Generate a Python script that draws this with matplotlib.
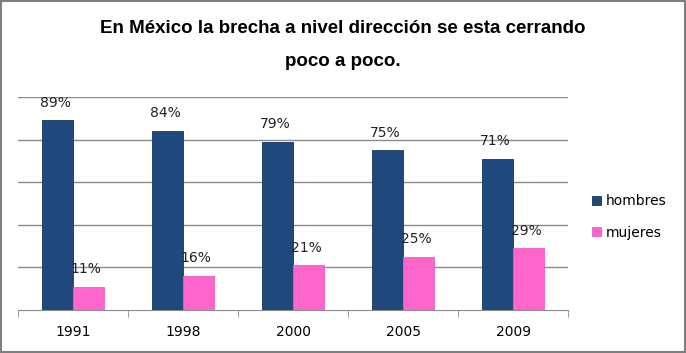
import numpy as np
import matplotlib.pyplot as plt
from matplotlib.patches import Rectangle
from matplotlib import font_manager

years = ['1991', '1998', '2000', '2005', '2009']
hombres = [0.89, 0.84, 0.79, 0.75, 0.71]
mujeres = [0.11, 0.16, 0.21, 0.25, 0.29]

blue = '#1F497D'
pink = '#FF66CC'

names = {f.name for f in font_manager.fontManager.ttflist}
title_font = 'Liberation Sans Narrow' if 'Liberation Sans Narrow' in names else 'Liberation Sans'

fig = plt.figure(figsize=(6.86, 3.53), dpi=100)
fig.patches.append(Rectangle((0.002, 0.003), 0.996, 0.994, transform=fig.transFigure,
                             fill=False, edgecolor='#7F7F7F', linewidth=1.5))

ax = fig.add_axes([0.0262, 0.1218, 0.802, 0.6034])
x = np.arange(len(years)) + 0.5
w = 0.28
b1 = ax.bar(x - w / 2, hombres, w, color=blue, edgecolor='#17375E', linewidth=0.6, label='hombres', zorder=3)
b2 = ax.bar(x + w / 2, mujeres, w, color=pink, edgecolor='#F05AC0', linewidth=0.6, label='mujeres', zorder=3)

for bars, vals in ((b1, hombres), (b2, mujeres)):
    for r, v in zip(bars, vals):
        ax.text(r.get_x() + r.get_width() / 2 - 0.02, v + 0.05, f'{v * 100:.0f}%',
                ha='center', va='bottom', fontsize=10, family='DejaVu Sans', color='#222222')

ax.set_xlim(0, len(years))
ax.set_ylim(0, 1)
ax.set_yticks([0.2, 0.4, 0.6, 0.8, 1.0])
ax.yaxis.grid(True, color='#8C8C8C', linewidth=1, linestyle='-')
ax.tick_params(axis='y', left=False, labelleft=False)
ax.set_xticks(x)
ax.set_xticklabels(years, fontsize=10, family='DejaVu Sans')
ax.set_xticks(np.arange(len(years) + 1), minor=True)
ax.tick_params(axis='x', which='major', length=0, pad=11)
ax.tick_params(axis='x', which='minor', length=5, color='#8C8C8C', direction='out')
for s in ['top', 'right', 'left']:
    ax.spines[s].set_visible(False)
ax.spines['bottom'].set_color('#8C8C8C')
ax.set_axisbelow(True)

fig.legend(handles=[b1, b2], labels=['hombres', 'mujeres'], loc='center left',
           bbox_to_anchor=(0.845, 0.385), frameon=False,
           handlelength=0.6, handleheight=0.6, handletextpad=0.4, labelspacing=1.25,
           prop={'family': 'DejaVu Sans', 'size': 10})

fig.text(0.5, 0.92, 'En México la brecha a nivel dirección se esta cerrando',
         ha='center', va='center', fontsize=13.5, fontweight='bold', family=title_font)
fig.text(0.5, 0.825, 'poco a poco.',
         ha='center', va='center', fontsize=13.5, fontweight='bold', family=title_font)

fig.savefig('out.png', dpi=100)
